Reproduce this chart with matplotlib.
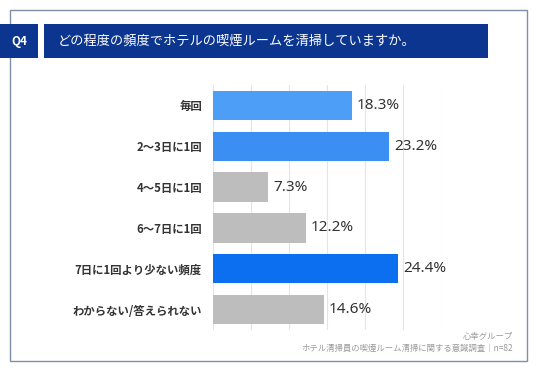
import numpy as np
import matplotlib.pyplot as plt
from matplotlib.patches import Rectangle

plt.rcParams['font.family'] = ['Noto Sans CJK JP', 'DejaVu Sans']

# data
categories = ['毎回', '2～3日に1回', '4～5日に1回', '6～7日に1回',
              '7日に1回より少ない頻度', 'わからない/答えられない']
values = [18.3, 23.2, 7.3, 12.2, 24.4, 14.6]
colors = ['#4c9ef7', '#3b8ff3', '#bdbdbd', '#bdbdbd', '#0b6ff0', '#bdbdbd']
title = 'どの程度の頻度でホテルの喫煙ルームを清掃していますか。'
qlabel = 'Q4'
source = ['心幸グループ', 'ホテル清掃員の喫煙ルーム清掃に関する意識調査｜n=82']

W, H = 536, 371
fig = plt.figure(figsize=(W / 100, H / 100), dpi=100)


def px(x, y, w, h):
    # pixel box (top-left origin) -> figure fraction
    return (x / W, 1 - (y + h) / H, w / W, h / H)


# outer frame
x0, y0, w0, h0 = px(10, 10, 517, 351)
fig.patches.append(Rectangle((x0, y0), w0, h0, transform=fig.transFigure,
                             fill=False, edgecolor='#7d8fa9', lw=1.0))

# header boxes
for bx, bw in [(0, 38), (44, 444)]:
    x, y, w, h = px(bx, 24, bw, 34)
    fig.patches.append(Rectangle((x, y), w, h, transform=fig.transFigure,
                                 facecolor='#0c3590', edgecolor='none'))
fig.text(19 / W, 1 - 41 / H, qlabel, color='white', fontsize=8.5,
         ha='center', va='center', fontweight='bold')
fig.text(58 / W, 1 - 41 / H, title, color='white', fontsize=9.5,
         ha='left', va='center')

ax = fig.add_axes(px(213, 85, 228, 245))
y = np.arange(len(categories))
ax.barh(y, values, height=0.72, color=colors, zorder=2)
for yi, v in zip(y, values):
    ax.text(v + 0.6, yi, f'{v}%', va='center', ha='left', fontsize=11,
            color='#333333', family=['Noto Sans', 'DejaVu Sans'])

ax.set_xlim(0, 30)
ax.set_ylim(len(categories) - 0.5, -0.5)
ax.set_xticks(np.arange(0, 31, 5))
ax.xaxis.grid(True, color='#e4e4e4', lw=0.8, zorder=0)
ax.set_yticks(y)
ax.set_yticklabels(categories, fontsize=8.2, color='#333333',
                   fontweight='bold')
ax.tick_params(axis='y', length=0, pad=8)
ax.tick_params(axis='x', length=0, labelbottom=False)
for s in ax.spines.values():
    s.set_visible(False)

fig.text(513 / W, 1 - 336 / H, source[0], fontsize=6, color='#9a9a9a',
         ha='right', va='center')
fig.text(513 / W, 1 - 348 / H, source[1], fontsize=6, color='#9a9a9a',
         ha='right', va='center')

fig.savefig('out.png', dpi=100)
